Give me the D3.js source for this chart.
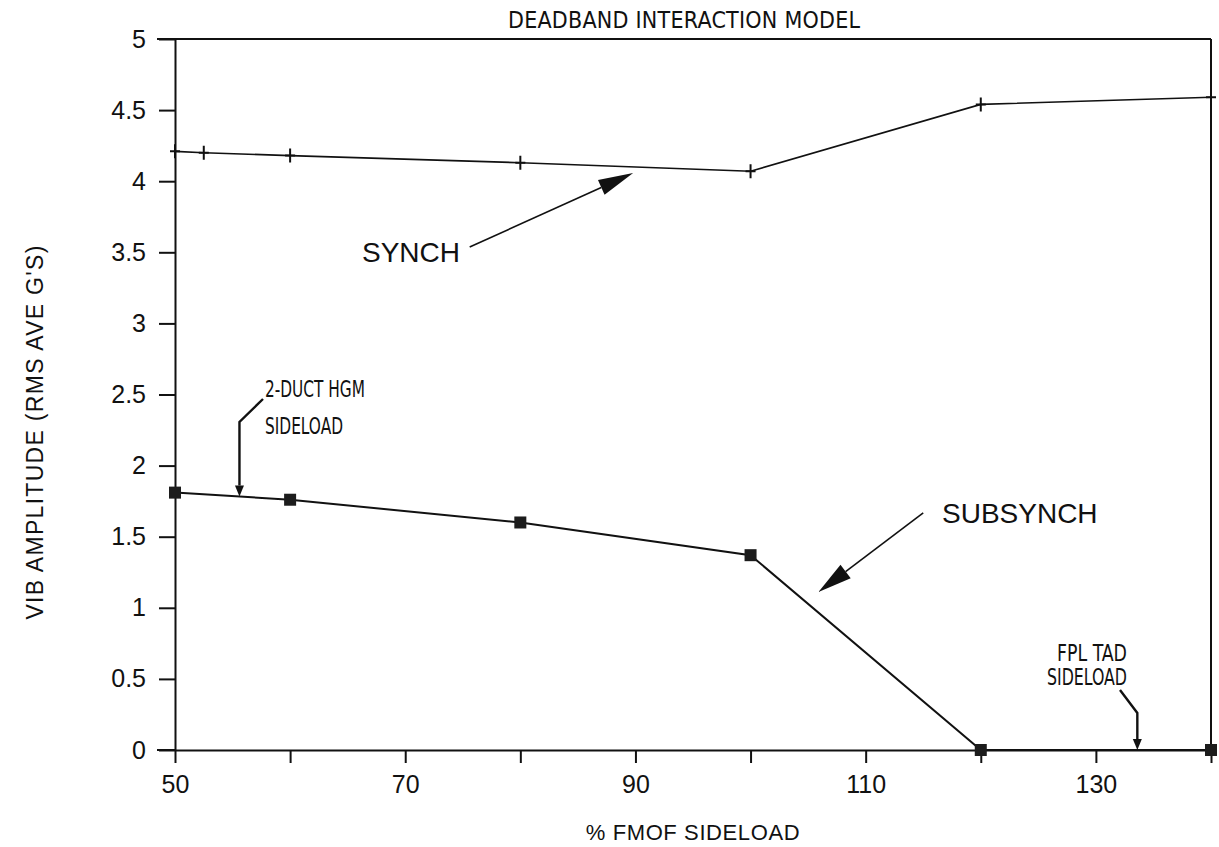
<!DOCTYPE html>
<html>
<head>
<meta charset="utf-8">
<script src="https://cdn.jsdelivr.net/npm/d3@7/dist/d3.min.js"></script>
<style>
  html, body { margin: 0; padding: 0; background: #fff; }
  svg { display: block; }
  text { font-family: "Liberation Sans", Arial, Helvetica, sans-serif; fill: #111; }
  .narrow { font-family: "Liberation Sans Narrow", "DejaVu Sans Condensed", "Liberation Sans", sans-serif; }
</style>
</head>
<body>
<svg id="chart" width="1219" height="847"></svg>
<script>
// Sideload sweep, % FMOF
const synchLoad = [50, 52.5, 60, 80, 100, 120, 140];
const synchAmp  = [4.21, 4.20, 4.18, 4.13, 4.07, 4.54, 4.59];

const subsynchLoad = [50, 60, 80, 100, 120, 140];
const subsynchAmp  = [1.81, 1.76, 1.60, 1.37, 0, 0];

const xTickValues = [50, 60, 70, 80, 90, 100, 110, 120, 130, 140];
const xTickLabels = [50, 70, 90, 110, 130];
const yTickValues = [0, 0.5, 1, 1.5, 2, 2.5, 3, 3.5, 4, 4.5, 5];

// Reference loads marked with arrows
const hgmSideload = 55.6;
const fplSideload = 133.6;

const svg = d3.select("#chart");
const x = d3.scaleLinear().domain([50, 140]).range([175, 1211]);
const y = d3.scaleLinear().domain([0, 5]).range([750, 39]);

// frame: top and right edges
svg.append("line").attr("x1", 157).attr("x2", x(140)).attr("y1", y(5)).attr("y2", y(5))
  .attr("stroke", "#111").attr("stroke-width", 2);
svg.append("line").attr("x1", x(140)).attr("x2", x(140)).attr("y1", y(5)).attr("y2", y(0))
  .attr("stroke", "#111").attr("stroke-width", 2);

// axes
const gx = svg.append("g").attr("transform", `translate(0,${y(0)})`)
  .call(d3.axisBottom(x).tickValues(xTickValues).tickSize(13).tickSizeOuter(0).tickPadding(12)
    .tickFormat(d => xTickLabels.includes(d) ? d : ""));
const gy = svg.append("g").attr("transform", `translate(${x(50)},0)`)
  .call(d3.axisLeft(y).tickValues(yTickValues).tickSize(16).tickSizeOuter(0).tickPadding(13)
    .tickFormat(d => String(d)));
[gx, gy].forEach(g => {
  g.selectAll("path.domain").attr("stroke", "#111").attr("stroke-width", 2);
  g.selectAll(".tick line").attr("stroke", "#111").attr("stroke-width", 2);
  g.selectAll(".tick text").attr("font-size", 25).attr("fill", "#111")
    .style("font-family", '"Liberation Sans", Arial, sans-serif');
});
// extend bottom axis to meet the y tick at zero
svg.append("line").attr("x1", 157).attr("x2", x(50)).attr("y1", y(0)).attr("y2", y(0))
  .attr("stroke", "#111").attr("stroke-width", 2);

// titles
svg.append("text").attr("class", "narrow").attr("x", 508).attr("y", 28).attr("font-size", 23)
  .attr("textLength", 352).attr("lengthAdjust", "spacing")
  .text("DEADBAND INTERACTION MODEL");
svg.append("text").attr("x", (x(50) + x(140)) / 2).attr("y", 840).attr("font-size", 22)
  .attr("letter-spacing", 0.6).attr("text-anchor", "middle").text("% FMOF SIDELOAD");
svg.append("text").attr("transform", "translate(43,432) rotate(-90)").attr("font-size", 23)
  .attr("letter-spacing", 1.3).attr("text-anchor", "middle").text("VIB AMPLITUDE (RMS AVE G'S)");

// series
const synch = synchLoad.map((v, i) => [v, synchAmp[i]]);
const subsynch = subsynchLoad.map((v, i) => [v, subsynchAmp[i]]);
const line = d3.line().x(d => x(d[0])).y(d => y(d[1]));

svg.append("path").datum(synch).attr("d", line)
  .attr("fill", "none").attr("stroke", "#111").attr("stroke-width", 1.6);
svg.append("g").selectAll("path").data(synch).join("path")
  .attr("d", d => `M${x(d[0])},${y(d[1]) - 7}V${y(d[1]) + 7}M${x(d[0]) - 5},${y(d[1])}H${x(d[0]) + 5}`)
  .attr("stroke", "#111").attr("stroke-width", 2).attr("fill", "none");

svg.append("path").datum(subsynch).attr("d", line)
  .attr("fill", "none").attr("stroke", "#111").attr("stroke-width", 2);
svg.append("g").selectAll("rect").data(subsynch).join("rect")
  .attr("x", d => x(d[0]) - 6).attr("y", d => y(d[1]) - 6)
  .attr("width", 12).attr("height", 12).attr("fill", "#1c1c1c");

// arrow helper: shaft through the given points, filled head at the last one
function arrow(pts, len, half, sw) {
  const n = pts.length;
  const [tx, ty] = pts[n - 1], [px, py] = pts[n - 2];
  const dx = tx - px, dy = ty - py, dl = Math.hypot(dx, dy);
  const ux = dx / dl, uy = dy / dl;
  const bx = tx - ux * len, by = ty - uy * len;
  const shaft = pts.slice(0, n - 1).concat([[bx, by]]);
  svg.append("path").attr("d", d3.line()(shaft)).attr("fill", "none")
    .attr("stroke", "#111").attr("stroke-width", sw);
  svg.append("path")
    .attr("d", `M${tx},${ty}L${bx - uy * half},${by + ux * half}L${bx + uy * half},${by - ux * half}Z`)
    .attr("fill", "#111");
}

// SYNCH callout
svg.append("text").attr("x", 460).attr("y", 262).attr("font-size", 28)
  .attr("text-anchor", "end").text("SYNCH");
arrow([[x(75.6), y(3.537)], [x(89.8), y(4.058)]], 35, 8, 1.6);

// SUBSYNCH callout
svg.append("text").attr("x", 942).attr("y", 523).attr("font-size", 28).text("SUBSYNCH");
arrow([[x(115.0), y(1.667)], [x(105.9), y(1.111)]], 34, 8.5, 1.6);

// 2-duct HGM sideload marker
const hgmAmp = d3.scaleLinear().domain([50, 60]).range([subsynchAmp[0], subsynchAmp[1]])(hgmSideload);
svg.append("text").attr("class", "narrow").attr("x", 265).attr("y", 397).attr("font-size", 23)
  .attr("textLength", 100).attr("lengthAdjust", "spacingAndGlyphs").text("2-DUCT HGM");
svg.append("text").attr("class", "narrow").attr("x", 265).attr("y", 434).attr("font-size", 23)
  .attr("textLength", 78).attr("lengthAdjust", "spacingAndGlyphs").text("SIDELOAD");
arrow([[263, 399], [x(hgmSideload), 422], [x(hgmSideload), y(hgmAmp)]], 11, 4.5, 2.4);

// FPL TAD sideload marker
svg.append("text").attr("class", "narrow").attr("x", 1057).attr("y", 661).attr("font-size", 23)
  .attr("textLength", 70).attr("lengthAdjust", "spacingAndGlyphs").text("FPL TAD");
svg.append("text").attr("class", "narrow").attr("x", 1047).attr("y", 685).attr("font-size", 23)
  .attr("textLength", 80).attr("lengthAdjust", "spacingAndGlyphs").text("SIDELOAD");
arrow([[1120, 690], [x(fplSideload), 713], [x(fplSideload), y(0)]], 11, 4.5, 2.4);
</script>
</body>
</html>
